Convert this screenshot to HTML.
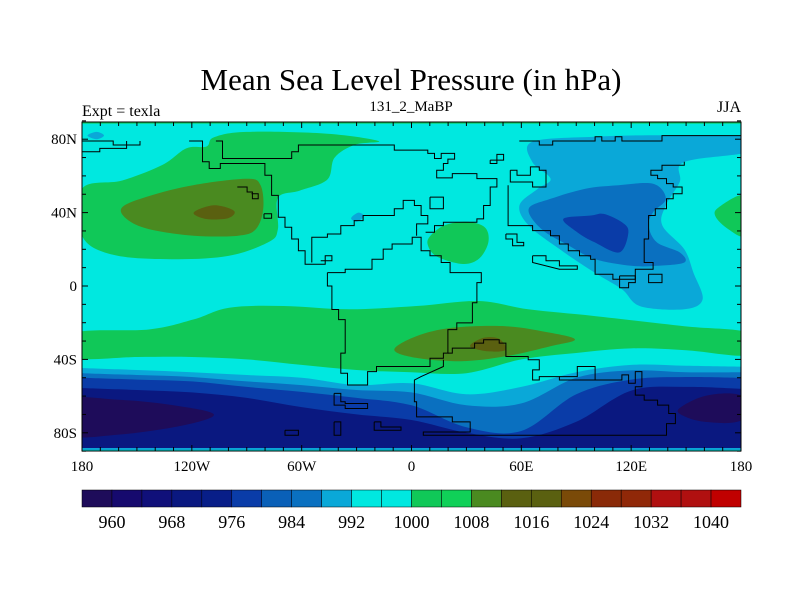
<!DOCTYPE html>
<html><head><meta charset="utf-8"><style>
html,body{margin:0;padding:0;background:#fff;width:800px;height:600px;overflow:hidden}
svg text{font-family:"Liberation Serif",serif;fill:#000}
</style></head><body>
<svg id="chart" width="800" height="600" viewBox="0 0 800 600" xmlns="http://www.w3.org/2000/svg">
<defs><clipPath id="pc"><rect x="82" y="122" width="659" height="329"/></clipPath></defs>
<text x="411" y="90" font-size="31" text-anchor="middle">Mean Sea Level Pressure (in hPa)</text>
<text x="82" y="116" font-size="16">Expt = texla</text>
<text x="411" y="111" font-size="15" text-anchor="middle">131_2_MaBP</text>
<text x="741" y="112" font-size="16" text-anchor="end">JJA</text>
<g id="map" clip-path="url(#pc)"></g>
<g id="coast" clip-path="url(#pc)" fill="none" stroke="#000" stroke-width="1"></g>
<rect x="82" y="122" width="659" height="329" fill="none" stroke="#000" stroke-width="1"/>
<g id="axes"></g>
<g id="cbar"></g>
</svg>
<script>
// ---- data ----
const levels = [960,964,968,972,976,980,984,988,992,996,1000,1004,1008,1012,1016,1020,1024,1028,1032,1036,1040];
const levelColors = ['#1e0c5a','#160a6e','#10107a','#0a1880','#081e88','#0a3ca8','#0a60b8','#0a70c0','#0aa8d8','#00e8e0','#00e8e0','#10c858','#10d058','#4a8a20','#5a6010','#5a6010','#7a4a08','#8a2a08','#902808','#b01010','#b01010','#c00000'];
const cbarLabels = [960,968,976,984,992,1000,1008,1016,1024,1032,1040];
const lonTicks = [-180,-120,-60,0,60,120,180];
const lonTickLabels = ['180','120W','60W','0','60E','120E','180'];
const latTicks = [80,40,0,-40,-80];
const latTickLabels = ['80N','40N','0','40S','80S'];
// contour blobs: [colorIndex, polygon lon/lat]
const blobs = [
 [11, [[-180,53],[-158,57.5],[-136,66],[-123,75],[-112,76],[-108,81],[-90,84],[-46,83],[-18,79],[-31,77],[-42,70],[-46,58],[-61,52],[-73,48],[-73,31],[-78,24],[-100,16.4],[-131,14.6],[-163,17],[-180,27.4]]],
 [13, [[-158,43],[-143.5,49],[-119,55],[-90,58.4],[-82.5,55],[-81,42],[-85,31],[-94.7,27.4],[-119,27.4],[-143.5,31],[-155.6,36.5]]],
 [14, [[-119,40],[-108,44],[-97,41],[-100,37],[-112,36.5]]],
 [11, [[182,49],[168,43],[166,38],[173,31],[182,28]]],
 [11, [[10,27],[18,33],[30,35],[40,32],[42,24],[37,15],[28,12],[14,16],[9,22]]],
 [11, [[-184,-25.5],[-143.5,-23.7],[-119,-18.2],[-99.6,-11.8],[-70,-10.9],[-33.8,-12.7],[2.8,-10.9],[36.9,-8.2],[63.7,-12.7],[100.2,-16.4],[149,-21.9],[184,-25.5],[184,-37.6],[150,-35],[120,-34],[90,-36.5],[60,-40],[30,-47.5],[0,-47],[-30,-45.8],[-60,-43],[-90,-40],[-120,-38.7],[-150,-38.7],[-184,-39]]],
 [13, [[-9.4,-34.7],[2.8,-27.3],[22.3,-22.8],[51.5,-21.9],[75.9,-25.5],[89.3,-29.2],[75.9,-32.8],[51.5,-38.3],[27.1,-41],[2.8,-39.2]]],
 [14, [[32,-32.8],[39.3,-28.3],[47.8,-28.8],[51.5,-34.7],[41.7,-35.6]]],
 [8, [[66,78.6],[100,81.3],[137,82.2],[184,81.3],[184,73.1],[149,67.6],[146.5,56.7],[139,44],[137,33],[149,20],[154,7.3],[159,-7.3],[149,-12.7],[125,-11],[115,-1.8],[100,7.3],[81,20],[64,33],[59,44],[69,53],[76,58.5],[66,67.6]]],
 [7, [[64,42],[76,47.5],[95,53],[112,54.8],[132,55.7],[139,47.5],[132,40.2],[129.5,32.9],[134,23.8],[146.5,18.3],[149,12.8],[134,11],[120,11],[100,14.7],[86,22],[71,31]]],
 [5, [[83,36.6],[98,38.4],[105,39.3],[115,34.7],[118.5,29.3],[113.6,18.3],[100,23.8],[90.5,29.3]]],
 [8, [[-177,82],[-172,84],[-168,82],[-172,80]]],
 [8, [[-33,37],[-29,40],[-26,38],[-30,35]]]
];
// southern bands: top-boundary latitude at bandLons
const bandLons = [-180,-150,-120,-90,-60,-30,0,30,60,90,120,150,180];
const bandColorIdx = [8,7,5,3];
const bandTops = [
 [-44.7,-45.8,-47,-48.5,-50,-54,-53,-59,-55,-47,-43,-43.5,-44],
 [-47.5,-48.5,-49.6,-52,-54,-56.7,-58,-65,-64,-50,-46,-47,-47],
 [-50,-51,-52,-55,-57.7,-61,-65,-77,-79,-59,-51,-49.6,-50],
 [-55.6,-56.7,-58,-61,-66,-70,-73,-80,-83,-74,-57,-55,-56]
];
const lows = [[0,[[-190,-62],[-160,-62],[-130,-65],[-108,-70],[-125,-76],[-160,-81],[-190,-81]]],
              [0,[[146,-67],[160,-60],[178,-59],[188,-66],[178,-74],[160,-74],[149,-71]]]];
// ---- projection ----
const X = lon => 82 + (lon+180)*659/360;
const Y = lat => 286 - lat*1.835;
const NS='http://www.w3.org/2000/svg';
function smooth(pts, closed){
  const p=pts.map(q=>[X(q[0]),Y(q[1])]);const n=p.length;let d='M'+p[0][0].toFixed(1)+','+p[0][1].toFixed(1);
  const cnt = closed?n:n-1;
  for(let i=0;i<cnt;i++){
    const p0=p[(i-1+n)%n],p1=p[i],p2=p[(i+1)%n],p3=p[(i+2)%n];
    const a0=closed||i>0?p0:p1, a3=closed||i<n-2?p3:p2;
    const c1=[p1[0]+(p2[0]-a0[0])/6,p1[1]+(p2[1]-a0[1])/6],c2=[p2[0]-(a3[0]-p1[0])/6,p2[1]-(a3[1]-p1[1])/6];
    d+='C'+c1.map(v=>v.toFixed(1))+' '+c2.map(v=>v.toFixed(1))+' '+p2.map(v=>v.toFixed(1));
  }
  return d+(closed?'Z':'');
}
const map=document.getElementById('map');
function add(parent,tag,attrs){const e=document.createElementNS(NS,tag);for(const k in attrs)e.setAttribute(k,attrs[k]);parent.appendChild(e);return e;}
let r=add(map,'rect',{x:82,y:122,width:659,height:329,fill:levelColors[9]});


r=add(map,'rect',{x:82,y:Y(90),width:659,height:Y(88.5)-Y(90),fill:levelColors[11]});


blobs.forEach(b=>{const e=add(map,'path',{d:smooth(b[1],true),fill:levelColors[b[0]]});

});
bandTops.forEach((tops,i)=>{
  const pts=bandLons.map((l,j)=>[l,tops[j]]);
  let d=smooth(pts,false)+'L'+X(180)+','+Y(-95)+'L'+X(-180)+','+Y(-95)+'Z';
  const e=add(map,'path',{d:d,fill:levelColors[bandColorIdx[i]]});
  
  
});
lows.forEach(b=>{const e=add(map,'path',{d:smooth(b[1],true),fill:levelColors[b[0]]});

});
r=add(map,'rect',{x:82,y:Y(-88.3),width:659,height:1.5,fill:levelColors[8]});


r=add(map,'rect',{x:82,y:Y(-89.2),width:659,height:2,fill:levelColors[9]});



// coastline traces (image-trace coordinates)
const coasts=[
 [[290,128],[320,128],[320,190],[335,190],[335,210],[360,210],[360,195],[460,195],[460,230],[475,230],[475,290],[490,290],[490,355],[505,355],[505,385],[520,385],[520,420],[535,420],[535,455],[550,455],[550,495],[595,495],[595,470],[610,470],[610,485],[585,485]],
 [[350,128],[365,128],[365,180],[520,180],[520,160],[535,160],[535,140],[750,140],[750,155],[825,155],[825,165],[840,165],[840,180],[855,180],[855,165],[885,165],[885,182],[870,182],[870,195],[860,195],[860,215],[845,215],[845,238],[880,238],[880,225],[935,225],[935,240],[980,240],[980,265],[965,265],[965,320],[950,320],[950,360],[935,360],[935,370],[860,370],[860,380],[840,380],[840,400],[820,400]],
 [[565,490],[565,415],[600,415],[600,405],[630,405],[630,380],[660,380],[660,365],[680,365],[680,350],[750,350],[750,330],[770,330],[770,305],[795,305],[795,320],[810,320],[810,350],[825,350],[825,375],[800,375],[800,410]],
 [[600,520],[640,520],[640,510],[700,510],[700,480],[725,480],[725,450],[745,450],[745,435],[790,435],[790,415],[810,415],[810,455],[830,455],[830,470],[855,470],[855,490],[875,490],[875,520],[945,520],[945,550],[935,550],[935,610],[925,610],[925,670],[890,670],[890,690],[870,690],[870,760],[860,760],[860,775],[830,775],[830,800],[710,800],[710,815],[690,815],[690,855],[645,855],[645,820],[630,820],[630,760],[640,760],[640,660],[625,660],[625,630],[610,630],[610,560],[600,560],[600,520]],
 [[870,760],[880,760],[880,745],[930,745],[930,730],[950,730],[950,720],[985,720],[985,730],[1000,730],[1000,770],[1050,770],[1050,780],[1075,780],[1075,810],[1060,810],[1060,840],[1075,840],[1075,830],[1120,830],[1120,840],[1260,840],[1260,825],[1275,825],[1275,850],[1290,850],[1290,815],[1305,815],[1305,860],[1290,860],[1290,885],[1310,885],[1310,900],[1340,900],[1340,915],[1365,915],[1365,940],[1380,940],[1380,970],[1360,970],[1360,1005],[815,1005],[815,995],[920,995],[920,965],[880,965],[880,950],[800,950],[800,905],[795,905],[795,840],[810,830],[860,800],[860,780]],
 [[1200,840],[1200,800],[1160,800],[1160,830],[1120,830]],
 [[1030,128],[1075,128],[1075,140],[1105,140],[1105,128],[1200,128],[1200,115],[1215,115],[1215,128],[1245,128],[1245,115],[1260,115],[1260,128],[1350,128],[1350,112],[1527,112]],
 [[1010,215],[1025,215],[1025,230],[1055,230],[1055,205],[1075,205],[1075,215],[1090,215],[1090,265],[1060,265],[1060,250],[1010,250],[1010,215]],
 [[1005,260],[1005,380],[1060,380],[1060,395],[1100,395],[1100,410],[1120,410],[1120,435],[1140,435],[1140,455],[1165,455],[1165,470],[1190,470],[1190,480],[1200,480],[1200,525],[1240,525],[1240,540],[1290,540],[1290,510],[1330,510],[1330,490],[1310,490],[1310,420],[1320,420],[1320,350],[1335,350],[1335,330],[1360,330],[1360,300],[1375,300],[1375,285],[1395,285],[1395,265],[1375,265],[1375,255],[1360,255],[1360,240],[1340,240],[1340,230],[1325,230],[1325,215],[1350,215],[1350,200],[1400,200],[1400,190]],
 [[1060,470],[1090,470],[1090,485],[1120,485],[1120,500],[1160,500],[1160,510],[1120,510],[1060,490],[1060,470]],
 [[1255,530],[1290,530],[1290,550],[1275,550],[1275,565],[1255,565],[1255,530]],
 [[1320,525],[1350,525],[1350,550],[1320,550],[1320,525]],
 [[965,185],[995,185],[995,168],[980,168],[980,195],[965,195],[965,185]],
 [[1000,405],[1025,405],[1025,430],[1040,430],[1040,440],[1015,440],[1015,420],[1000,420],[1000,405]],
 [[830,295],[860,295],[860,330],[830,330],[830,295]],
 [[615,880],[630,880],[630,905],[640,905],[640,910],[690,910],[690,925],[640,925],[640,915],[615,915],[615,880]],
 [[705,965],[720,965],[720,980],[765,980],[765,990],[705,990],[705,965]],
 [[615,965],[630,965],[630,1005],[615,1005],[615,965]],
 [[505,990],[535,990],[535,1005],[505,1005],[505,990]],
 [[458,345],[475,345],[475,358],[458,358],[458,345]],
 [[398,265],[420,265],[420,280],[432,280],[432,300],[445,300],[445,285],[430,285]],
 [[50,128],[120,128],[120,140],[180,140],[180,128]],
 [[50,160],[90,160],[90,150],[150,150],[150,128]]
];
const cx=z=>82+(z-50)*659/1477, cy=z=>286+(z-560)*147/438;
const coastG=document.getElementById('coast');
coasts.forEach(c=>{const e=add(coastG,'polyline',{points:c.map(p=>cx(p[0]).toFixed(1)+','+cy(p[1]).toFixed(1)).join(' ')});

});

// axes
const ax=document.getElementById('axes');
for(let l=-180;l<=180;l+=10){const big=l%60===0;
 add(ax,'line',{x1:X(l),x2:X(l),y1:122,y2:122+(big?6:4),stroke:'#000'});
 add(ax,'line',{x1:X(l),x2:X(l),y1:451,y2:451-(big?6:4),stroke:'#000'});}
for(let l=-90;l<=90;l+=10){const big=l%40===0;
 add(ax,'line',{x1:82,x2:82+(big?6:4),y1:Y(l),y2:Y(l),stroke:'#000'});
 add(ax,'line',{x1:741,x2:741-(big?6:4),y1:Y(l),y2:Y(l),stroke:'#000'});}
lonTicks.forEach((l,i)=>{const t=add(ax,'text',{x:X(l),y:471,'font-size':15,'text-anchor':'middle'});t.textContent=lonTickLabels[i];

});
latTicks.forEach((l,i)=>{const t=add(ax,'text',{x:77,y:Y(l)+5,'font-size':15,'text-anchor':'end'});t.textContent=latTickLabels[i];

});

// colorbar
const cb=document.getElementById('cbar');const bw=659/levelColors.length;
levelColors.forEach((c,i)=>{const e=add(cb,'rect',{x:82+i*bw,y:490,width:bw,height:17,fill:c,stroke:'#000','stroke-width':0.5});

});
cbarLabels.forEach(v=>{const i=levels.indexOf(v)+1;const t=add(cb,'text',{x:82+i*bw,y:528,'font-size':18,'text-anchor':'middle'});t.textContent=v;

});
</script>
</body></html>
